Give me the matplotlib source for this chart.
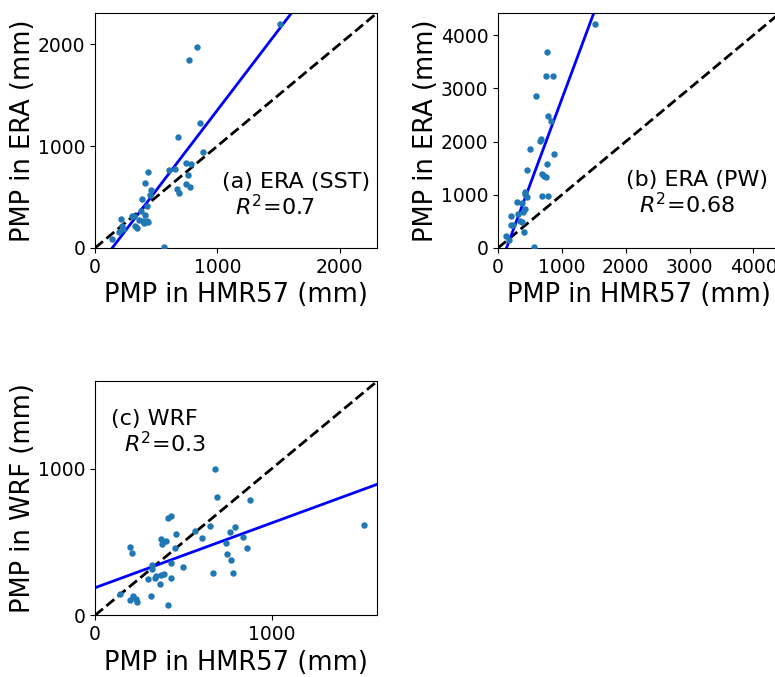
import numpy as np
import matplotlib
matplotlib.use('Agg')
from matplotlib import pyplot as plt
from matplotlib.ticker import MultipleLocator

# PMP values (mm)
hmr_a = [1515, 835, 767, 860, 680, 879, 743, 786, 655, 601, 762, 431, 412, 745,
         778, 672, 685, 459, 450, 382, 428, 374, 410, 300, 322, 210, 363, 390,
         423, 404, 434, 328, 341, 224, 232, 197, 139, 568]
era_sst = [2196, 1974, 1840, 1229, 1091, 938, 830, 820, 771, 765, 719, 748, 634,
           624, 598, 575, 543, 569, 520, 477, 415, 366, 327, 317, 317, 288, 275,
           261, 261, 242, 255, 216, 193, 216, 183, 160, 85, 7]

hmr_b = [1520, 761, 745, 860, 597, 781, 824, 666, 651, 494, 880, 766, 456, 682,
         718, 745, 430, 420, 682, 776, 451, 299, 377, 425, 399, 210, 314, 341,
         377, 200, 236, 409, 132, 566, 165]
era_pw = [4207, 3675, 3230, 3236, 2854, 2485, 2391, 2053, 2009, 1859, 1771, 1572,
          1459, 1390, 1358, 1327, 1052, 1008, 982, 982, 964, 870, 851, 727, 682,
          601, 638, 513, 494, 432, 432, 306, 231, 13, 150]

hmr_c = [1519, 679, 690, 879, 411, 430, 653, 789, 568, 764, 458, 604, 838, 372,
         404, 381, 740, 862, 453, 200, 208, 745, 768, 428, 325, 496, 323, 670,
         779, 372, 389, 345, 341, 298, 428, 366, 141, 318, 213, 200, 232, 238, 411]
wrf = [619, 995, 807, 789, 664, 675, 607, 603, 573, 567, 551, 526, 531, 519, 505,
       487, 494, 458, 458, 463, 422, 415, 374, 358, 342, 331, 315, 290, 290, 276,
       281, 267, 254, 245, 252, 215, 143, 131, 133, 104, 111, 93, 70]

# linear fits (slope, intercept) and R^2 as shown
fit_a = (1.573, -221)
fit_b = (3.23, -429)
fit_c = (0.442, 188)
labels = ['(a) ERA (SST)', '(b) ERA (PW)', '(c) WRF']
r2 = ['0.7', '0.68', '0.3']
ylabels = ['PMP in ERA (mm)', 'PMP in ERA (mm)', 'PMP in WRF (mm)']


def panel(ax, x, y, fit, lab, r, ylab, txt_pos):
    x = np.array(x)
    y = np.array(y)
    lim = 1.05 * max(x.max(), y.max())
    ax.scatter(x, y, s=13, color='#1f77b4', zorder=3)
    xx = np.array([0, lim])
    ax.plot(xx, xx, 'k--', lw=2)
    ax.plot(xx, fit[0] * xx + fit[1], 'b-', lw=2)
    ax.set_xlim(0, lim)
    ax.set_ylim(0, lim)
    ax.xaxis.set_major_locator(MultipleLocator(1000))
    ax.yaxis.set_major_locator(MultipleLocator(1000))
    ax.tick_params(labelsize=13.5)
    ax.set_xlabel('PMP in HMR57 (mm)', fontsize=18.5)
    ax.set_ylabel(ylab, fontsize=18.5, labelpad=1)
    tx, ty = txt_pos
    ax.text(tx, ty, lab, transform=ax.transAxes, fontsize=16,
            ha='left', va='center')
    ax.text(tx + 0.046, ty - 0.105, '$R^2$=' + r, transform=ax.transAxes,
            fontsize=16, ha='left', va='center')


fig = plt.figure(figsize=(7.75, 6.77), dpi=100)
ax1 = fig.add_axes([0.1226, 0.6337, 0.3639, 0.3471])
ax2 = fig.add_axes([0.6426, 0.6337, 0.3639, 0.3471])
ax3 = fig.add_axes([0.1226, 0.0911, 0.3639, 0.3456])

panel(ax1, hmr_a, era_sst, fit_a, labels[0], r2[0], ylabels[0], (0.45, 0.282))
panel(ax2, hmr_b, era_pw, fit_b, labels[1], r2[1], ylabels[1], (0.453, 0.289))
panel(ax3, hmr_c, wrf, fit_c, labels[2], r2[2], ylabels[2], (0.056, 0.838))

fig.savefig('out.png', dpi=100)
